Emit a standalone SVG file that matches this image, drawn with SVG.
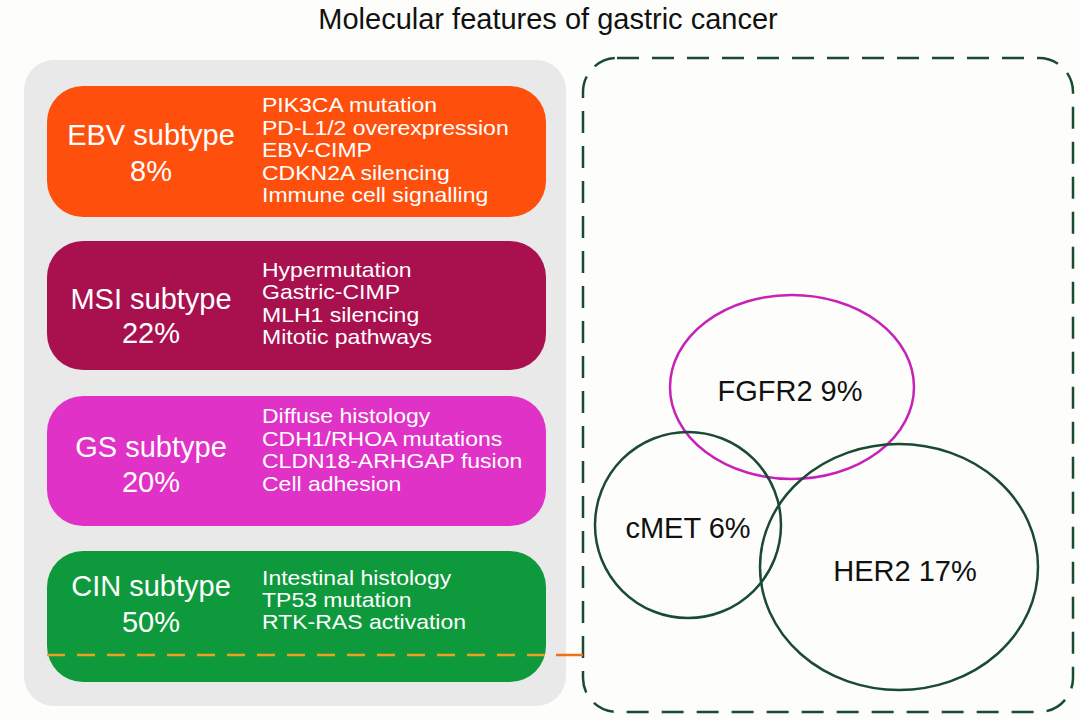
<svg xmlns="http://www.w3.org/2000/svg" width="1080" height="720" viewBox="0 0 1080 720">
<style>
.t{font-family:"Liberation Sans",Arial,sans-serif}
.lbl{font-size:29px;fill:#fff;text-anchor:middle}
.feat{font-size:20px;fill:#fff}
.venn{font-size:29px;fill:#111;text-anchor:middle}
.ring{fill:none;stroke-width:2.5}
</style>
<rect width="1080" height="720" fill="#fdfefb"/>
<text class="t" x="548" y="29" font-size="29" fill="#111" text-anchor="middle">Molecular features of gastric cancer</text>
<rect x="24" y="60" width="542" height="646" rx="30" fill="#e9e9e9"/>
<g id="ebv">
<rect x="47" y="86" width="499" height="131" rx="36" fill="#ff4f0c"/>
<text class="t lbl" x="151" y="145">EBV subtype</text>
<text class="t lbl" x="151" y="181">8%</text>
<g transform="translate(262,0) scale(1.15,1)">
<text class="t feat" x="0" y="112">PIK3CA mutation</text>
<text class="t feat" x="0" y="135">PD-L1/2 overexpression</text>
<text class="t feat" x="0" y="157">EBV-CIMP</text>
<text class="t feat" x="0" y="180">CDKN2A silencing</text>
<text class="t feat" x="0" y="202">Immune cell signalling</text>
</g>
</g>
<g id="msi">
<rect x="47" y="241" width="499" height="129" rx="36" fill="#a8104e"/>
<text class="t lbl" x="151" y="309">MSI subtype</text>
<text class="t lbl" x="151" y="343">22%</text>
<g transform="translate(262,0) scale(1.15,1)">
<text class="t feat" x="0" y="277">Hypermutation</text>
<text class="t feat" x="0" y="299">Gastric-CIMP</text>
<text class="t feat" x="0" y="322">MLH1 silencing</text>
<text class="t feat" x="0" y="344">Mitotic pathways</text>
</g>
</g>
<g id="gs">
<rect x="47" y="396" width="499" height="130" rx="36" fill="#e032c6"/>
<text class="t lbl" x="151" y="457">GS subtype</text>
<text class="t lbl" x="151" y="492">20%</text>
<g transform="translate(262,0) scale(1.15,1)">
<text class="t feat" x="0" y="423">Diffuse histology</text>
<text class="t feat" x="0" y="446">CDH1/RHOA mutations</text>
<text class="t feat" x="0" y="468">CLDN18-ARHGAP fusion</text>
<text class="t feat" x="0" y="491">Cell adhesion</text>
</g>
</g>
<g id="cin">
<rect x="47" y="551" width="499" height="131" rx="36" fill="#0e9a3c"/>
<text class="t lbl" x="151" y="596">CIN subtype</text>
<text class="t lbl" x="151" y="632">50%</text>
<g transform="translate(262,0) scale(1.15,1)">
<text class="t feat" x="0" y="585">Intestinal histology</text>
<text class="t feat" x="0" y="607">TP53 mutation</text>
<text class="t feat" x="0" y="629">RTK-RAS activation</text>
</g>
</g>
<g id="panel">
<rect x="583" y="58" width="490" height="654" rx="34" fill="none" stroke="#1b4a32" stroke-width="2.5" stroke-dasharray="22,13"/>
</g>
<g id="fgfr2">
<ellipse class="ring" cx="792" cy="387" rx="122" ry="92" stroke="#c622b8"/>
<text class="t venn" x="790" y="401">FGFR2 9%</text>
</g>
<g id="cmet">
<ellipse class="ring" cx="688" cy="525" rx="93" ry="93" stroke="#1b4a32"/>
<text class="t venn" x="688" y="538">cMET 6%</text>
</g>
<g id="her2">
<ellipse class="ring" cx="899" cy="567" rx="139" ry="123" stroke="#1b4a32"/>
<text class="t venn" x="905" y="581">HER2 17%</text>
</g>
<g id="connectors">
<line x1="47" y1="655" x2="546" y2="655" stroke="#f0a020" stroke-width="2.5" stroke-dasharray="18,12"/>
<line x1="556" y1="655" x2="583" y2="655" stroke="#f07018" stroke-width="2.5"/>
</g>
</svg>
